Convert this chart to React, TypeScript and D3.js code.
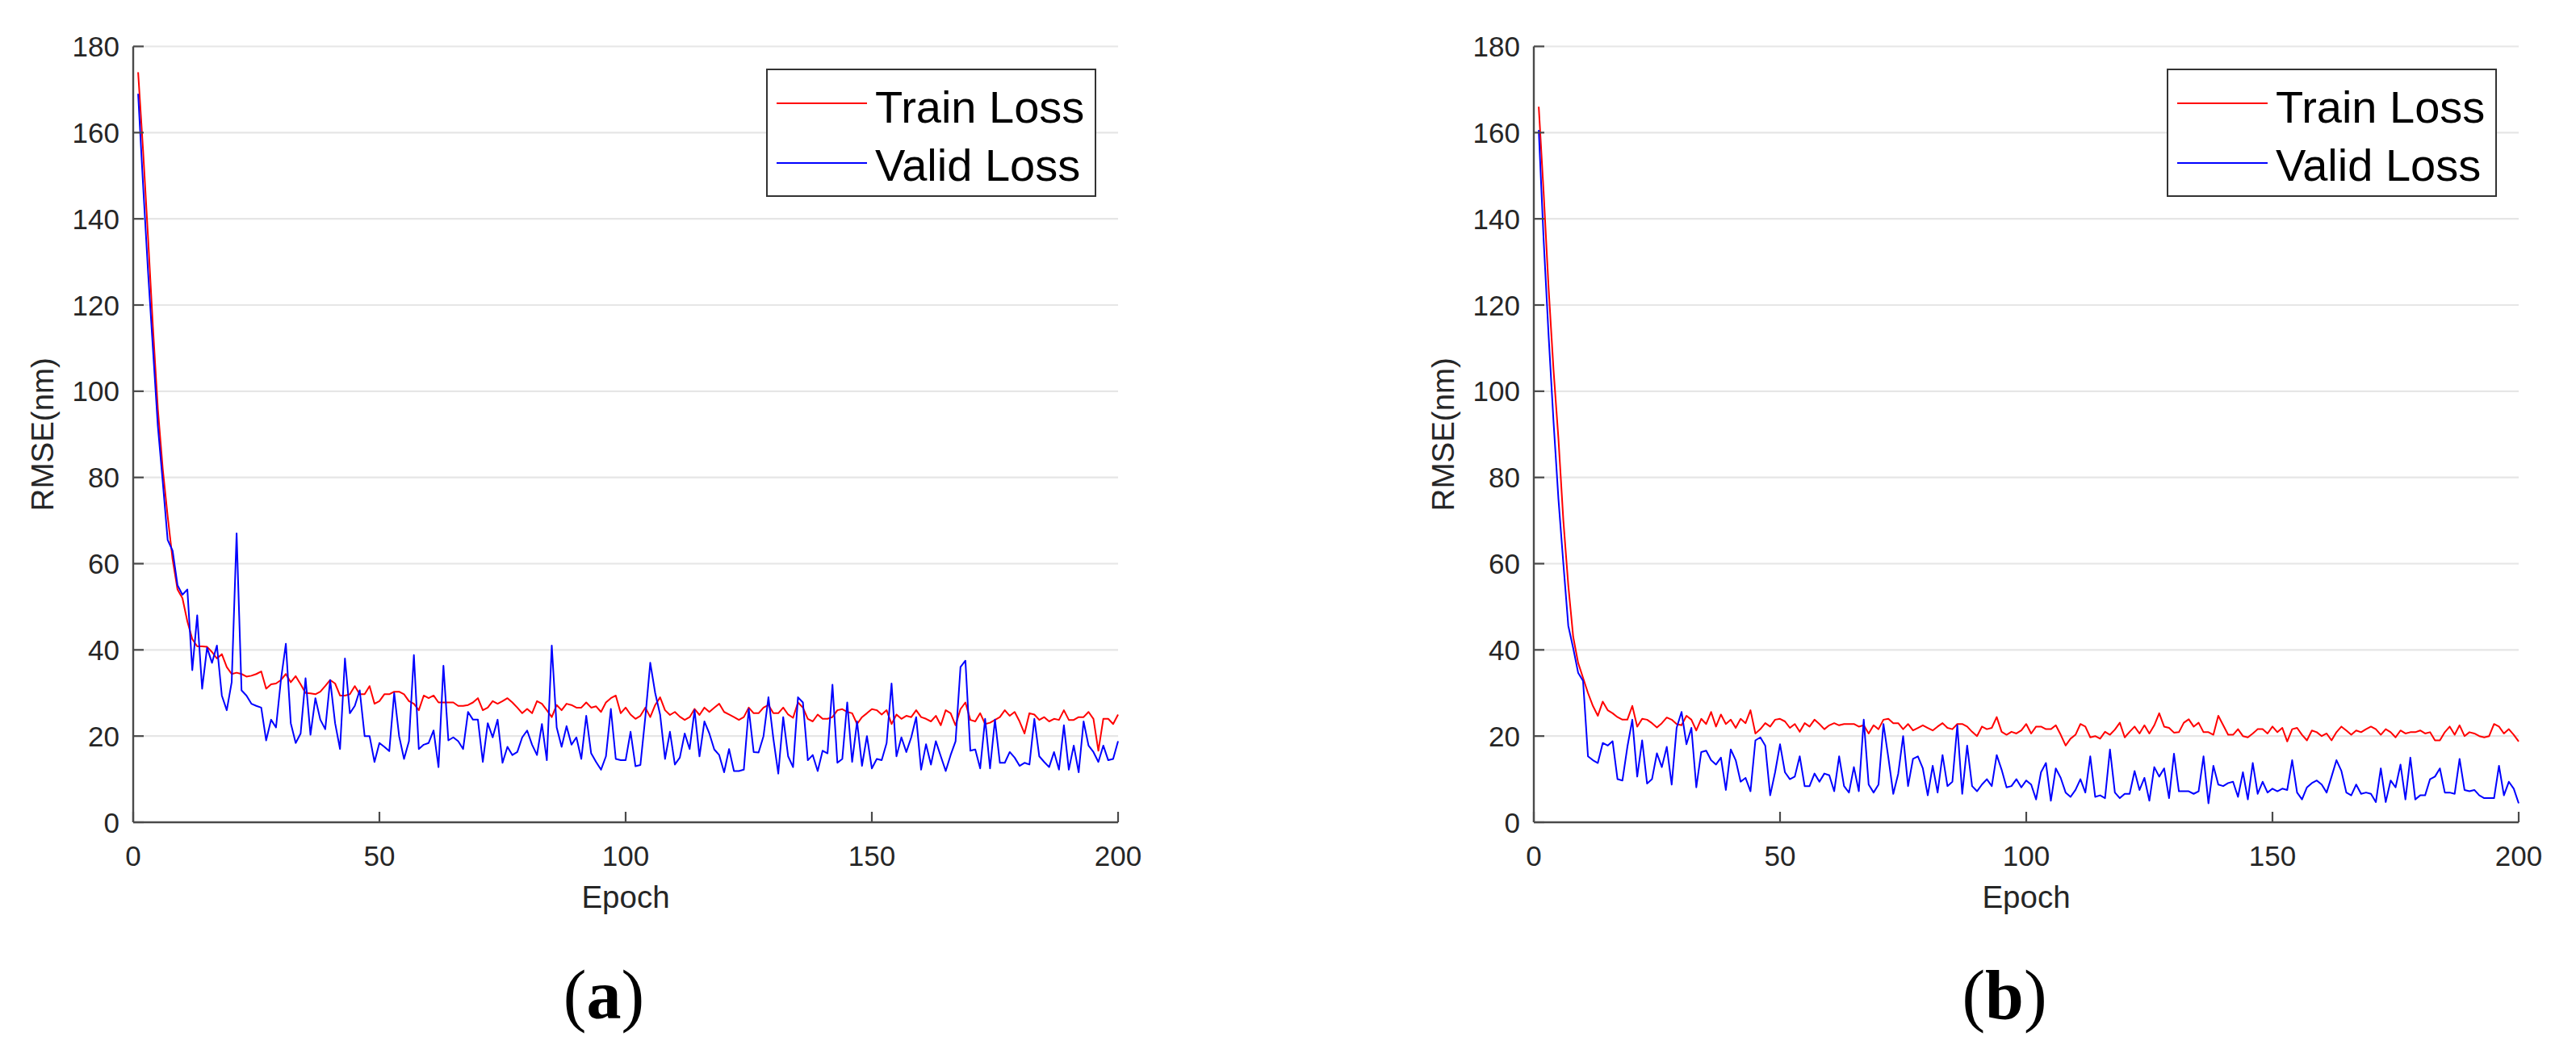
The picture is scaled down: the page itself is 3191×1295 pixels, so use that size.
import React from "react";
import * as d3 from "d3";

const yTicks = [0, 20, 40, 60, 80, 100, 120, 140, 160, 180];
const xTicks = [0, 50, 100, 150, 200];
const seriesNames = ["Train Loss", "Valid Loss"];
const panelLabels = ["a", "b"];

const trainA = [
  174, 156, 136, 115, 96, 82, 71, 61, 54, 52,
  46.6, 42.5, 40.8, 40.8, 40.7, 39.5, 38, 39, 36, 34.4,
  34.7, 34.4, 33.8, 34, 34.4, 35, 31, 32, 32.2, 33,
  34.4, 32.5, 33.9, 32, 30, 29.9, 29.7, 30.3, 31.6, 33,
  32.2, 29.4, 29.4, 29.7, 31.6, 29.7, 29.7, 31.6, 27.5, 28.1,
  29.7, 29.7, 30.3, 30.3, 29.7, 28.1, 27.5, 26, 29.4, 28.8,
  29.4, 27.8, 27.8, 27.8, 27.8, 27, 27, 27.2, 27.8, 28.8,
  26, 26.6, 28.1, 27.5, 28.1, 28.8, 27.8, 26.6, 25.3, 26.3,
  25.3, 28.1, 27.5, 26, 24.4, 27.2, 26, 27.5, 27.2, 26.6,
  26.6, 27.8, 26.6, 26.9, 25.6, 27.8, 28.8, 29.4, 25.3, 26.6,
  25, 24, 24.7, 26.6, 24.4, 27.2, 29, 26, 24.9, 25.6,
  24.5, 23.75, 24.4, 26.3, 24.9, 26.6, 25.6, 26.6, 27.5, 25.6,
  25, 24.4, 23.75, 24.4, 26.6, 25.3, 25.3, 26.6, 27.2, 25.3,
  25.3, 26.6, 25, 24.25, 27.8, 26.6, 24, 23.4, 25, 24,
  24, 24.4, 26, 26.25, 25.6, 25.3, 22.8, 24.4, 25.3, 26.25,
  26, 25, 26, 22.8, 25, 24, 24.7, 24.4, 26, 24.4,
  24, 23.4, 24.7, 22.5, 26, 25.3, 22.5, 26.25, 27.8, 23.75,
  23.4, 25.3, 22.8, 23.1, 23.75, 24.4, 26, 24.7, 25.6, 23.4,
  20.6, 25.3, 25, 23.75, 24.4, 23.4, 24, 23.75, 26, 23.75,
  23.75, 24.4, 24.4, 25.6, 24, 16.6, 24, 24, 22.8, 25,
];

const validA = [
  169, 148, 128, 110, 92, 79, 65.5, 63, 55, 52.8,
  54, 35.3, 48, 31, 40.5, 37, 41, 29.4, 26, 32.5,
  67, 30.6, 29.4, 27.5, 27, 26.6, 19, 23.8, 22, 33,
  41.4, 23, 18.4, 20.6, 33.4, 20.3, 28.8, 23.8, 21.6, 33,
  23, 17, 38, 25.3, 27, 30.6, 20, 20, 14, 18.4,
  17.5, 16.5, 30, 20, 14.7, 18.8, 38.8, 17, 18, 18.4,
  21.3, 12.8, 36.3, 19, 19.7, 18.8, 17, 25.6, 23.8, 23.8,
  14, 23, 19.7, 23.8, 13.8, 17.5, 15.6, 16.3, 19.7, 21.3,
  18, 15.6, 22.8, 14.4, 41, 22, 17.5, 22.3, 18, 19.7,
  14.7, 24.7, 16, 14, 12.2, 15.3, 26.3, 14.7, 14.4, 14.4,
  21, 13, 13.3, 24.4, 37, 30, 25, 14.7, 21, 13.4,
  15, 20.6, 17, 26, 15.3, 23.4, 20.6, 16.9, 15.6, 11.6,
  17, 11.9, 11.9, 12.2, 26.3, 16.3, 16.2, 20, 29, 19.4,
  11.3, 24.4, 15.3, 12.8, 29, 27.8, 14.4, 15.6, 11.9, 16.6,
  16, 31.9, 13.8, 14.7, 27.8, 14, 23.4, 13.1, 20, 12.5,
  14.7, 14.4, 18.4, 32.2, 15.3, 19.7, 16.3, 19.7, 24.4, 12.2,
  18.1, 13.4, 18.8, 15.3, 11.9, 15.6, 18.8, 36, 37.5, 16.6,
  16.9, 12.5, 24, 12.5, 23.8, 13.8, 13.8, 16.3, 15, 13.1,
  13.8, 13.4, 24, 15.3, 14, 12.8, 16.3, 12.2, 22.5, 12.2,
  17.8, 11.6, 23.4, 17.8, 16.3, 14, 17.8, 14.4, 14.7, 18.8,
];

const trainB = [
  166, 146, 124, 105, 89, 70, 55, 43, 37, 33.5,
  30, 27, 24.7, 28, 26, 25.3, 24.4, 23.8, 23.8, 27,
  22.2, 24, 23.8, 23, 22, 23, 24.3, 23.8, 22.8, 22.5,
  24.7, 23.8, 21.3, 24, 22.8, 25.6, 22.2, 25, 22.8, 23.8,
  21.9, 24, 23, 26, 20.6, 21.6, 23, 22.2, 23.8, 24,
  23.4, 21.9, 22.8, 21, 23, 22.2, 23.8, 22.8, 21.6, 22.5,
  23, 22.5, 22.8, 22.8, 22.8, 22.2, 22.5, 20.6, 22.5, 21.6,
  23.8, 24, 23, 23, 21.6, 22.8, 21.3, 21.9, 22.5, 21.9,
  21.3, 22.2, 23, 21.9, 21.6, 22.8, 22.8, 22.2, 21, 20,
  22.2, 21.6, 21.9, 24.4, 21, 20.3, 21, 20.6, 21.3, 22.8,
  20.6, 22.2, 22.2, 21.6, 21.6, 22.5, 20.3, 17.8, 19.4, 20.3,
  22.8, 22.2, 19.7, 20, 19.4, 21, 20.3, 21.5, 23.1, 19.7,
  21, 22.2, 20.6, 22.5, 20.6, 22.5, 25.3, 22.2, 21.9, 20.8,
  20.9, 23.1, 23.9, 22.2, 23.1, 20.9, 20.9, 20.3, 24.7, 22.5,
  20.3, 20.3, 21.6, 20, 19.7, 20.6, 21.6, 21.6, 20.6, 22.2,
  20.9, 21.9, 18.75, 21.6, 21.9, 20.3, 19, 21.3, 20.9, 20,
  20.6, 19, 20.9, 22.2, 21.3, 20.3, 21.3, 20.9, 21.6, 22.2,
  21.6, 20.3, 21.6, 20.9, 19.7, 21.3, 20.6, 20.9, 20.9, 21.3,
  20.6, 20.9, 19, 19, 20.9, 22.2, 20.3, 22.5, 20, 20.9,
  20.6, 20, 19.7, 20, 22.8, 22.2, 20.6, 21.6, 20.3, 18.75,
];

const validB = [
  160.6, 135, 113, 93, 75, 60, 45.6, 40.4, 34.7, 32.8,
  15.3, 14.4, 13.75, 18.4, 17.8, 18.8, 10, 9.7, 17.5, 23.8,
  10.6, 19, 9, 10, 16, 12.8, 17.5, 8.75, 21.9, 25.6,
  18.1, 21.9, 8.1, 16.3, 16.6, 14.4, 13.4, 15, 7.5, 16.9,
  14.4, 9.4, 10.3, 7.2, 19, 19.7, 17.8, 6.25, 11.6, 18.1,
  11.6, 10, 10.6, 15.3, 8.4, 8.4, 11.3, 9.4, 11.3, 10.9,
  7.2, 15.3, 8.4, 6.9, 12.8, 7.2, 23.8, 8.75, 6.9, 8.75,
  22.8, 15, 6.6, 11.25, 20, 8.4, 14.7, 15.3, 12.5, 6.25,
  13.1, 6.9, 15.6, 8.4, 9.4, 22.5, 6.6, 17.8, 8.4, 7.2,
  8.75, 10, 8.4, 15.6, 12.2, 8.1, 8.4, 10, 8.1, 9.7,
  8.75, 5.3, 11.6, 13.75, 5, 12.5, 10.3, 6.9, 5.9, 7.5,
  10, 6.9, 15.3, 5.9, 6.25, 5.6, 16.9, 6.9, 5.6, 6.6,
  6.6, 11.9, 7.5, 10.3, 5, 12.8, 10.6, 12.5, 5.6, 15.9,
  7.2, 7.2, 7.2, 6.6, 7.2, 15.3, 4.4, 13.1, 8.75, 8.4,
  9.1, 9.4, 5.9, 11.6, 5.3, 13.75, 6.6, 9.4, 6.9, 7.8,
  7.2, 7.8, 7.5, 14.4, 6.9, 5.3, 8.1, 9.1, 9.7, 8.75,
  6.9, 10.6, 14.4, 11.9, 6.9, 6.25, 8.75, 6.6, 6.9, 6.6,
  4.7, 12.5, 4.7, 9.7, 8.1, 13.4, 5.3, 15, 5.3, 6.25,
  6.25, 10, 10.6, 12.5, 6.9, 6.9, 6.6, 14.7, 7.5, 7.2,
  7.5, 6.25, 5.6, 5.6, 5.6, 13.1, 6.25, 9.4, 7.8, 4.4,
];

const panels = [
  { label: panelLabels[0], train: trainA, valid: validA },
  { label: panelLabels[1], train: trainB, valid: validB },
];

const W = 3191;
const H = 1295;
const PLOT_LEFT = 165;
const PLOT_W = 1220;
const PANEL_DX = 1735;
const PLOT_TOP = 57.5;
const PLOT_BOTTOM = 1019;
const SANS = "'Liberation Sans', Arial, sans-serif";
const SERIF = "'Liberation Serif', 'Times New Roman', serif";
const AXIS_COLOR = "#4a4a4a";
const TEXT_COLOR = "#262626";
const GRID_COLOR = "#e6e6e6";
const RED = "#ff0000";
const BLUE = "#0000ff";

function Panel({ offset, label, train, valid }) {
  const left = PLOT_LEFT + offset;
  const right = left + PLOT_W;
  const x = d3.scaleLinear().domain([0, 200]).range([left, right]);
  const y = d3.scaleLinear().domain([0, 180]).range([PLOT_BOTTOM, PLOT_TOP]);
  const line = d3
    .line<number>()
    .x((_, i) => x(i + 1))
    .y((d) => y(d));
  const cx = (left + right) / 2;
  const cy = (PLOT_TOP + PLOT_BOTTOM) / 2;
  const legRight = right - 28;
  const legLeft = legRight - 407;
  const legTop = 86;
  const legBottom = 243;
  const rows = [
    { name: seriesNames[0], color: RED, ly: 128, ty: 152 },
    { name: seriesNames[1], color: BLUE, ly: 202, ty: 224 },
  ];
  return (
    <g>
      {yTicks
        .filter((t) => t > 0)
        .map((t) => (
          <line key={"g" + t} x1={left} x2={right} y1={y(t)} y2={y(t)} stroke={GRID_COLOR} strokeWidth={2.2} />
        ))}
      <path d={line(train) || ""} fill="none" stroke={RED} strokeWidth={2} strokeLinejoin="round" />
      <path d={line(valid) || ""} fill="none" stroke={BLUE} strokeWidth={2} strokeLinejoin="round" />
      <line x1={left} x2={left} y1={PLOT_TOP} y2={PLOT_BOTTOM} stroke={AXIS_COLOR} strokeWidth={2.4} />
      <line x1={left} x2={right} y1={PLOT_BOTTOM} y2={PLOT_BOTTOM} stroke={AXIS_COLOR} strokeWidth={2.4} />
      {yTicks.map((t) => (
        <g key={"y" + t}>
          <line x1={left} x2={left + 13} y1={y(t)} y2={y(t)} stroke={AXIS_COLOR} strokeWidth={2.2} />
          <text x={left - 17} y={y(t) + 12.5} textAnchor="end" fontFamily={SANS} fontSize={35} fill={TEXT_COLOR}>
            {t}
          </text>
        </g>
      ))}
      {xTicks.map((t) => (
        <g key={"x" + t}>
          <line x1={x(t)} x2={x(t)} y1={PLOT_BOTTOM} y2={PLOT_BOTTOM - 13} stroke={AXIS_COLOR} strokeWidth={2.2} />
          <text x={x(t)} y={1073} textAnchor="middle" fontFamily={SANS} fontSize={35} fill={TEXT_COLOR}>
            {t}
          </text>
        </g>
      ))}
      <text x={cx} y={1125} textAnchor="middle" fontFamily={SANS} fontSize={38.5} fill={TEXT_COLOR}>
        Epoch
      </text>
      <text
        transform={`translate(${left - 99},${cy}) rotate(-90)`}
        textAnchor="middle"
        fontFamily={SANS}
        fontSize={38.5}
        fill={TEXT_COLOR}
      >
        RMSE(nm)
      </text>
      <rect
        x={legLeft}
        y={legTop}
        width={legRight - legLeft}
        height={legBottom - legTop}
        fill="#ffffff"
        stroke="#333333"
        strokeWidth={2}
      />
      {rows.map((r) => (
        <g key={r.name}>
          <line x1={legLeft + 12} x2={legLeft + 124} y1={r.ly} y2={r.ly} stroke={r.color} strokeWidth={2} />
          <text x={legLeft + 134} y={r.ty} fontFamily={SANS} fontSize={56} fill="#000000">
            {r.name}
          </text>
        </g>
      ))}
      <text x={cx - 27} y={1262} textAnchor="middle" fontFamily={SERIF} fontSize={86} fill="#000000">
        (<tspan fontWeight="bold">{label}</tspan>)
      </text>
    </g>
  );
}

export default function App() {
  return (
    <svg
      width={W}
      height={H}
      viewBox={`0 0 ${W} ${H}`}
      style={{ position: "absolute", left: 0, top: 0, background: "#ffffff" }}
    >
      <rect x={0} y={0} width={W} height={H} fill="#ffffff" />
      {panels.map((p, i) => (
        <Panel key={p.label} offset={i * PANEL_DX} label={p.label} train={p.train} valid={p.valid} />
      ))}
    </svg>
  );
}
